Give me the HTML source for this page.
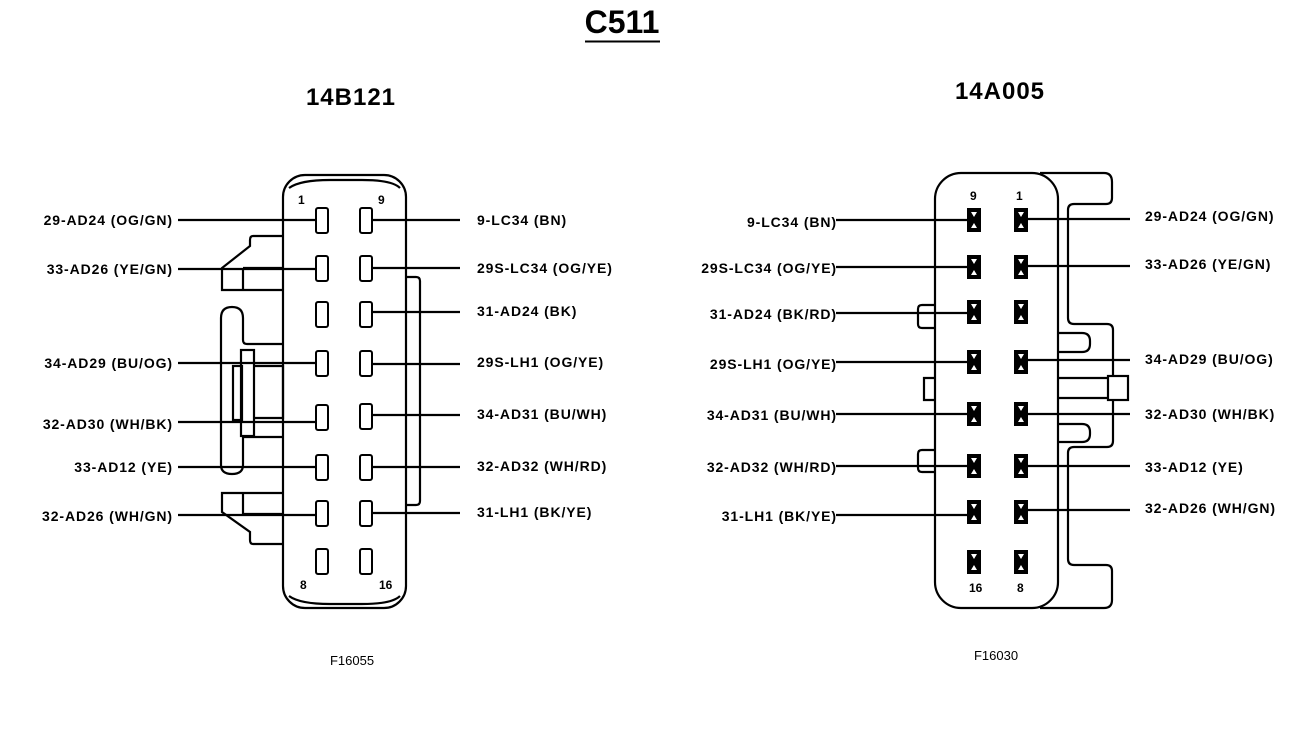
<!DOCTYPE html>
<html><head><meta charset="utf-8"><style>
html,body{margin:0;padding:0;background:#fff}
svg{display:block}
text{font-family:"Liberation Sans",Arial,sans-serif;fill:#000}
.l{font-size:14px;font-weight:bold;letter-spacing:0.9px}
.n{font-size:12px;font-weight:bold}
</style></head><body>
<svg width="1312" height="732" viewBox="0 0 1312 732" xmlns="http://www.w3.org/2000/svg">
<g fill="none" stroke="#000" stroke-width="2.2">
<rect x="283" y="175" width="123" height="433" rx="22"/>
<path d="M289 188 Q300 180 330 180 L362 180 Q392 180 400 188"/>
<path d="M289 596 Q300 604 330 604 L362 604 Q392 604 400 596"/>
<path d="M283 236 L253 236 Q250 236 250 240 L250 246 L222 268 L222 290 L283 290"/>
<path d="M243 268 L283 268 M243 268 L243 290"/>
<path d="M283 344 L247 344 Q243 344 243 340 L243 318 Q243 307 232 307 Q221 307 221 318 L221 465 Q221 474 232 474 Q243 474 243 465 L243 437"/>
<path d="M243 437 L283 437"/>
<rect x="241" y="350" width="13" height="86"/>
<rect x="233" y="366" width="9" height="54"/>
<path d="M254 366 L283 366 L283 418 L254 418"/>
<path d="M283 493 L222 493 L222 512 L250 532 L250 540 Q250 544 253 544 L283 544"/>
<path d="M243 493 L243 514 L283 514"/>
<path d="M406 277 L416 277 Q420 277 420 281 L420 501 Q420 505 416 505 L406 505"/>
<g stroke-width="2">
<rect x="316" y="208" width="12" height="25" rx="2"/><rect x="360" y="208" width="12" height="25" rx="2"/>
<rect x="316" y="256" width="12" height="25" rx="2"/><rect x="360" y="256" width="12" height="25" rx="2"/>
<rect x="316" y="302" width="12" height="25" rx="2"/><rect x="360" y="302" width="12" height="25" rx="2"/>
<rect x="316" y="351" width="12" height="25" rx="2"/><rect x="360" y="351" width="12" height="25" rx="2"/>
<rect x="316" y="405" width="12" height="25" rx="2"/><rect x="360" y="404" width="12" height="25" rx="2"/>
<rect x="316" y="455" width="12" height="25" rx="2"/><rect x="360" y="455" width="12" height="25" rx="2"/>
<rect x="316" y="501" width="12" height="25" rx="2"/><rect x="360" y="501" width="12" height="25" rx="2"/>
<rect x="316" y="549" width="12" height="25" rx="2"/><rect x="360" y="549" width="12" height="25" rx="2"/>
</g>
<path d="M178 220 H316 M178 269 H316 M178 363 H316 M178 422 H316 M178 467 H316 M178 515 H316"/>
<path d="M372 220 H460 M372 268 H460 M372 312 H460 M372 364 H460 M372 415 H460 M372 467 H460 M372 513 H460"/>

<rect x="935" y="173" width="123" height="435" rx="26"/>
<path d="M1040 173 L1104 173 Q1112 173 1112 182 L1112 198 Q1112 204 1106 204 L1074 204 Q1068 204 1068 210 L1068 318 Q1068 324 1074 324 L1107 324 Q1113 324 1113 330 L1113 376"/>
<path d="M1058 333 L1082 333 Q1090 333 1090 341 L1090 344 Q1090 352 1082 352 L1058 352"/>
<rect x="1108" y="376" width="20" height="24"/>
<path d="M1058 378 H1108 M1058 398 H1108"/>
<path d="M1113 400 L1113 441 Q1113 447 1107 447 L1074 447 Q1068 447 1068 453 L1068 559 Q1068 565 1074 565 L1106 565 Q1112 565 1112 571 L1112 600 Q1112 608 1104 608 L1040 608"/>
<path d="M1058 424 L1082 424 Q1090 424 1090 432 L1090 434 Q1090 442 1082 442 L1058 442"/>
<path d="M935 305 L922 305 Q918 305 918 309 L918 324 Q918 328 922 328 L935 328"/>
<path d="M935 378 L924 378 L924 400 L935 400"/>
<path d="M935 450 L922 450 Q918 450 918 454 L918 468 Q918 472 922 472 L935 472"/>
<path d="M836 220 H968 M836 267 H968 M836 313 H968 M836 362 H968 M836 414 H968 M836 466 H968 M836 515 H968"/>
<path d="M1027 219 H1130 M1027 266 H1130 M1027 360 H1130 M1027 414 H1130 M1027 466 H1130 M1027 510 H1130"/>
</g>
<g fill="#000">
<rect x="967" y="208" width="14" height="24"/><rect x="1014" y="208" width="14" height="24"/>
<rect x="967" y="255" width="14" height="24"/><rect x="1014" y="255" width="14" height="24"/>
<rect x="967" y="300" width="14" height="24"/><rect x="1014" y="300" width="14" height="24"/>
<rect x="967" y="350" width="14" height="24"/><rect x="1014" y="350" width="14" height="24"/>
<rect x="967" y="402" width="14" height="24"/><rect x="1014" y="402" width="14" height="24"/>
<rect x="967" y="454" width="14" height="24"/><rect x="1014" y="454" width="14" height="24"/>
<rect x="967" y="500" width="14" height="24"/><rect x="1014" y="500" width="14" height="24"/>
<rect x="967" y="550" width="14" height="24"/><rect x="1014" y="550" width="14" height="24"/>
</g>
<g fill="#fff">
<path d="M971 212 h6 l-3 5z M971 228 h6 l-3 -5z M1018 212 h6 l-3 5z M1018 228 h6 l-3 -5z"/>
<path d="M971 259 h6 l-3 5z M971 275 h6 l-3 -5z M1018 259 h6 l-3 5z M1018 275 h6 l-3 -5z"/>
<path d="M971 304 h6 l-3 5z M971 320 h6 l-3 -5z M1018 304 h6 l-3 5z M1018 320 h6 l-3 -5z"/>
<path d="M971 354 h6 l-3 5z M971 370 h6 l-3 -5z M1018 354 h6 l-3 5z M1018 370 h6 l-3 -5z"/>
<path d="M971 406 h6 l-3 5z M971 422 h6 l-3 -5z M1018 406 h6 l-3 5z M1018 422 h6 l-3 -5z"/>
<path d="M971 458 h6 l-3 5z M971 474 h6 l-3 -5z M1018 458 h6 l-3 5z M1018 474 h6 l-3 -5z"/>
<path d="M971 504 h6 l-3 5z M971 520 h6 l-3 -5z M1018 504 h6 l-3 5z M1018 520 h6 l-3 -5z"/>
<path d="M971 554 h6 l-3 5z M971 570 h6 l-3 -5z M1018 554 h6 l-3 5z M1018 570 h6 l-3 -5z"/>
</g>

<text x="622" y="33" font-size="32" font-weight="bold" text-anchor="middle">C511</text>
<line x1="585" y1="41.5" x2="660" y2="41.5" stroke="#000" stroke-width="2"/>
<text x="351" y="105" font-size="24" font-weight="bold" letter-spacing="1" text-anchor="middle">14B121</text>
<text x="1000" y="99" font-size="24" font-weight="bold" letter-spacing="1" text-anchor="middle">14A005</text>
<text x="352" y="665" font-size="13" text-anchor="middle">F16055</text>
<text x="996" y="660" font-size="13" text-anchor="middle">F16030</text>

<g class="n">
<text x="298" y="204">1</text><text x="378" y="204">9</text>
<text x="300" y="589">8</text><text x="379" y="589">16</text>
<text x="970" y="200">9</text><text x="1016" y="200">1</text>
<text x="969" y="592">16</text><text x="1017" y="592">8</text>
</g>

<g class="l" text-anchor="end">
<text x="173" y="225">29-AD24 (OG/GN)</text>
<text x="173" y="274">33-AD26 (YE/GN)</text>
<text x="173" y="368">34-AD29 (BU/OG)</text>
<text x="173" y="429">32-AD30 (WH/BK)</text>
<text x="173" y="472">33-AD12 (YE)</text>
<text x="173" y="521">32-AD26 (WH/GN)</text>
</g>
<g class="l">
<text x="477" y="225">9-LC34 (BN)</text>
<text x="477" y="273">29S-LC34 (OG/YE)</text>
<text x="477" y="316">31-AD24 (BK)</text>
<text x="477" y="367">29S-LH1 (OG/YE)</text>
<text x="477" y="419">34-AD31 (BU/WH)</text>
<text x="477" y="471">32-AD32 (WH/RD)</text>
<text x="477" y="517">31-LH1 (BK/YE)</text>
</g>
<g class="l" text-anchor="end">
<text x="837" y="227">9-LC34 (BN)</text>
<text x="837" y="273">29S-LC34 (OG/YE)</text>
<text x="837" y="319">31-AD24 (BK/RD)</text>
<text x="837" y="369">29S-LH1 (OG/YE)</text>
<text x="837" y="420">34-AD31 (BU/WH)</text>
<text x="837" y="472">32-AD32 (WH/RD)</text>
<text x="837" y="521">31-LH1 (BK/YE)</text>
</g>
<g class="l">
<text x="1145" y="221">29-AD24 (OG/GN)</text>
<text x="1145" y="269">33-AD26 (YE/GN)</text>
<text x="1145" y="364">34-AD29 (BU/OG)</text>
<text x="1145" y="419">32-AD30 (WH/BK)</text>
<text x="1145" y="472">33-AD12 (YE)</text>
<text x="1145" y="513">32-AD26 (WH/GN)</text>
</g>
</svg>
</body></html>
